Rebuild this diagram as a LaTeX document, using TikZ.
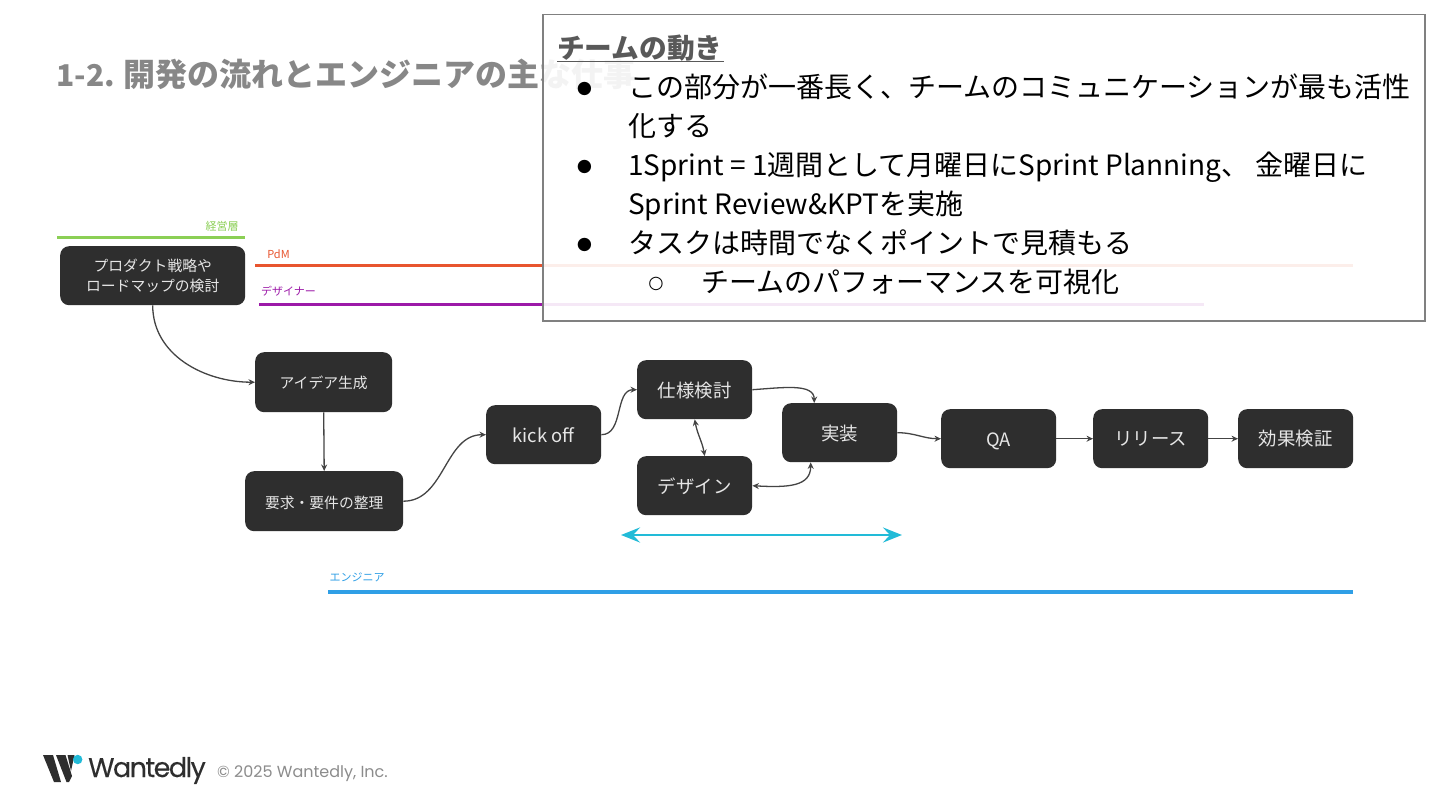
\documentclass[tikz,border=0pt]{standalone}
\usepackage{fontspec}
\setmainfont{Noto Sans CJK JP}
\newfontfamily\popfont{Poppins}
\newfontfamily\brandfont[LetterSpace=-5.8,FakeBold=0.25]{Poppins}
\newfontfamily\dejafont{DejaVu Sans}
\usetikzlibrary{arrows.meta,calc}
\newcommand{\fs}[1]{\fontsize{#1}{#1}\selectfont}
\newcommand{\lowr}[2][1pt]{\raisebox{-#1}[0.88em][0.12em]{#2}}
\definecolor{boxc}{HTML}{2E2E2E}
\definecolor{boxt}{HTML}{E6E6E6}
\definecolor{conn}{HTML}{444444}
\definecolor{gr}{HTML}{8BCF55}
\definecolor{rd}{HTML}{E8552F}
\definecolor{pu}{HTML}{9C19A8}
\definecolor{bl}{HTML}{2F9FE6}
\definecolor{cy}{HTML}{22BBD8}
\tikzset{
 flowbox/.style={fill=boxc,rounded corners=9pt,text=boxt,align=center,inner sep=0pt,anchor=north west},
 conn/.style={draw=conn,line width=1.3pt,-{Stealth[length=6.5pt,width=6pt]}},
 bidi/.style={draw=conn,line width=1.3pt,{Stealth[length=6.5pt,width=6pt]}-{Stealth[length=6.5pt,width=6pt]}},
 lane/.style={line width=3.5pt},
 lanelabel/.style={inner sep=0pt,font=\fs{11}},
 body/.style={anchor=base west,inner sep=0pt,text=black,font=\fs{28}},
 bul/.style={inner sep=0pt,text=black,font=\dejafont\fs{17.5}},
}
\begin{document}
\begin{tikzpicture}[x=1pt,y=-1pt]
\useasboundingbox (0,0) rectangle (1440,810);
\fill[white] (0,0) rectangle (1440,810);
% title
\node[anchor=base west,inner sep=0pt,text=black!47,font=\fs{32}\bfseries] (title) at (56.5,87) {{\fs{30}1-2.}\hspace{8pt}開発の流れとエンジニアの主な仕事};
% lanes
\coordinate (g1) at (57,237.5); \coordinate (g2) at (245,237.5);
\coordinate (r1) at (255,265.5); \coordinate (r2) at (1353,265.5);
\coordinate (p1) at (259,304.5); \coordinate (p2) at (1204,304.5);
\coordinate (b1) at (328,592); \coordinate (b2) at (1353,592);
\draw[lane,gr] (g1) -- (g2);
\draw[lane,rd] (r1) -- (r2);
\draw[lane,pu] (p1) -- (p2);
\draw[lane,bl] (b1) -- (b2);
\node[lanelabel,text=gr] (lg) at (222,226.5) {経営層};
\node[lanelabel,text=rd] (lr) at (278.5,254.5) {PdM};
\node[lanelabel,text=pu] (lp) at (288.5,291) {デザイナー};
\node[lanelabel,text=bl] (lb) at (357,577) {エンジニア};
% boxes
\node[flowbox,minimum width=185pt,minimum height=59pt,font=\fs{14.8}] (strategy) at (60,246) {プロダクト戦略や\\[5pt]ロードマップの検討};
\node[flowbox,minimum width=137pt,minimum height=60pt,font=\fs{14.8}] (idea) at (255,352) {\lowr{アイデア生成}};
\node[flowbox,minimum width=158pt,minimum height=60pt,font=\fs{14.8}] (req) at (245,471) {\lowr[1.5pt]{要求・要件の整理}};
\node[flowbox,minimum width=115pt,minimum height=59pt,font=\fs{18.4}] (kick) at (486,405) {\lowr{kick off}};
\node[flowbox,minimum width=115pt,minimum height=59pt,font=\fs{18.4}] (spec) at (637,360) {\lowr{仕様検討}};
\node[flowbox,minimum width=115pt,minimum height=59pt,font=\fs{18.4}] (design) at (637,456) {\lowr{デザイン}};
\node[flowbox,minimum width=115pt,minimum height=59pt,font=\fs{18.4}] (impl) at (782,403) {\lowr{実装}};
\node[flowbox,minimum width=115pt,minimum height=59pt,font=\fs{18.4}] (qa) at (941,409) {\lowr{QA}};
\node[flowbox,minimum width=115pt,minimum height=59pt,font=\fs{18.4}] (rel) at (1093,409) {リリース};
\node[flowbox,minimum width=115pt,minimum height=59pt,font=\fs{18.4}] (ver) at (1238,409) {効果検証};
% connectors
\draw[conn] (strategy.south) to[out=-90,in=180] (idea.west);
\draw[conn] (idea.south) -- (req.north);
\draw[conn] (req.east) to[out=0,in=180] (kick.west);
\draw[conn] (kick.east) to[out=0,in=180] (spec.west);
\draw[conn] (spec.east) .. controls +(30,-2) and +(0,-20) .. ($(impl.north)+(-25.5,0)$);
\draw[bidi] (spec.south) to[out=-80,in=100] ($(design.north)+(10,0)$);
\draw[bidi] (design.east) .. controls +(36,2) and +(0,24) .. ($(impl.south)+(-29,0)$);
\draw[conn] (impl.east) to[out=0,in=180] (qa.west);
\draw[conn] (qa.east) -- (rel.west);
\draw[conn] (rel.east) -- (ver.west);
% cyan span
\coordinate (c1) at (621,535); \coordinate (c2) at (902,535);
\draw[cy,line width=2.8pt,{Stealth[length=19pt,width=15pt,inset=7pt]}-{Stealth[length=19pt,width=15pt,inset=7pt]}] (c1) -- (c2);
% overlay box
\draw[draw=black!50,line width=1.6pt,fill=white,fill opacity=0.9] (543,14.5) rectangle (1425,321);
\node[anchor=west,inner sep=0pt,text=black!65,font=\fs{27.7}\bfseries] (head) at (557,48) {チームの動き};
\draw[black!65,line width=1.6pt] (557,61.5) -- (723.5,61.5);
\node[bul] (b1n) at (584.5,89) {●};
\node[body] (t1) at (628,98) {この部分が一番長く、チームのコミュニケーションが最も活性};
\node[body] (t1b) at (628,137) {化する};
\node[bul] (b2n) at (584.5,167) {●};
\node[body] (t2) at (628,176) {1Sprint = 1週間として月曜日にSprint Planning、 金曜日に};
\node[body] (t2b) at (628,215) {Sprint Review\&KPTを実施};
\node[bul] (b3n) at (584.5,245) {●};
\node[body] (t3) at (628,254) {タスクは時間でなくポイントで見積もる};
\node[bul] (b4n) at (656,284) {○};
\node[body] (t4) at (701,293) {チームのパフォーマンスを可視化};
% footer logo
\fill[boxc] (43,755) -- (53,755) -- (61,782) -- (54,782) -- cycle;
\fill[boxc] (56,755) -- (65.5,755) -- (72,776) -- (69,782) -- (66.5,782) -- cycle;
\fill[boxc] (67.5,755) -- (74.5,755) -- (71,771) -- cycle;
\fill[cy] (77.7,759.5) circle (4.7);
\node[anchor=base west,inner sep=0pt,text=boxc,font=\brandfont\fs{27}] (brand) at (88,777) {Wantedly};
\node[anchor=west,inner sep=0pt,text=black!45,font=\popfont\fs{16}] (copy) at (217,774) {© 2025 Wantedly, Inc.};
\end{tikzpicture}
\end{document}
